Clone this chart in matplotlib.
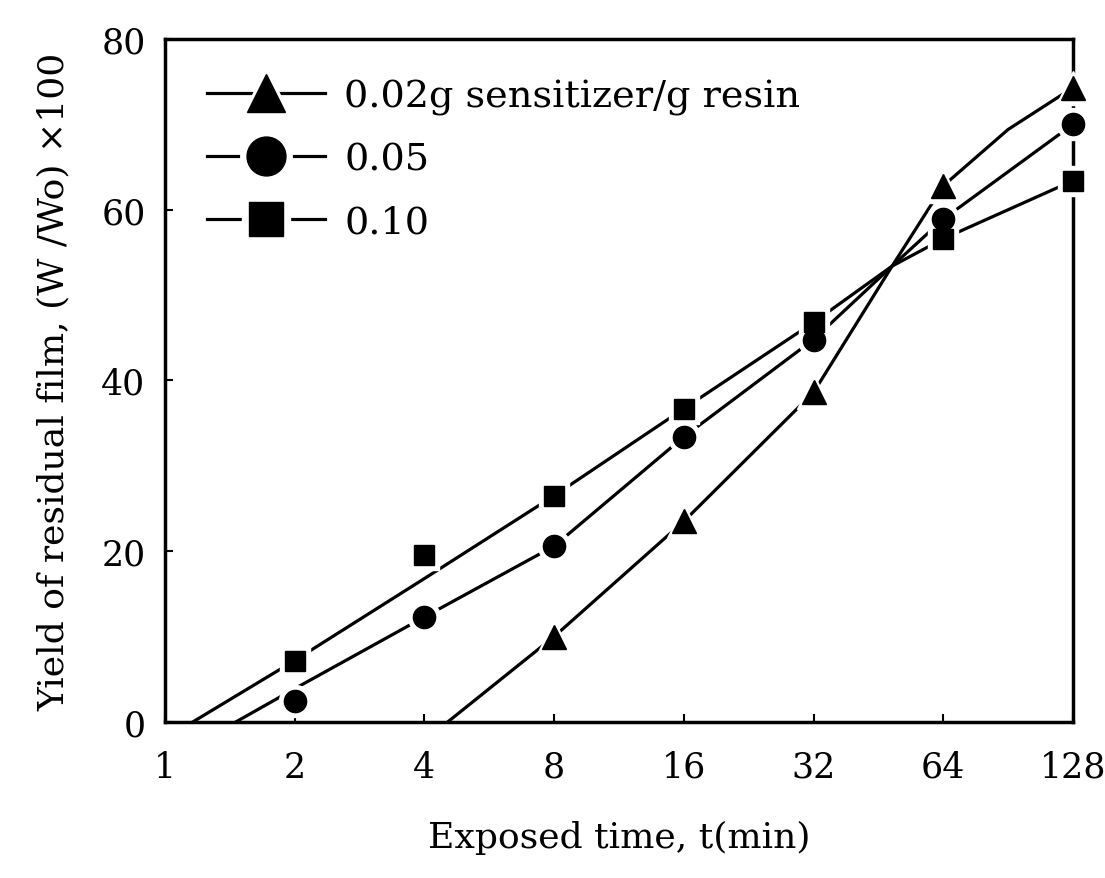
import matplotlib
matplotlib.use("Agg")
import matplotlib.pyplot as plt
from matplotlib.lines import Line2D
from matplotlib.legend_handler import HandlerTuple

plt.rcParams['font.family'] = ['DejaVu Serif']

# exposure times (min)
tri_t = [8, 16, 32, 64, 128]
tri_y = [10.0, 23.5, 38.6, 62.8, 74.3]
cir_t = [2, 4, 8, 16, 32, 64, 128]
cir_y = [2.5, 12.3, 20.6, 33.4, 44.8, 58.9, 70.0]
sq_t = [2, 4, 8, 16, 32, 64, 128]
sq_y = [7.2, 19.6, 26.5, 36.7, 46.8, 56.6, 63.4]

# fitted curves as drawn in the figure
tri_fit_t = [4.53, 8, 16, 32, 48.7, 64, 90.5, 128]
tri_fit_y = [0.0, 10.0, 23.5, 38.6, 53.4, 62.8, 69.4, 74.3]
cir_fit_t = [1.46, 2, 4, 8, 16, 32, 48.7, 64, 128]
cir_fit_y = [0.0, 3.9, 12.3, 20.6, 33.4, 44.8, 53.4, 58.9, 70.0]
sq_fit_t = [1.16, 2, 4, 8, 16, 32, 48.7, 64, 128]
sq_fit_y = [0.0, 7.2, 16.8, 26.5, 36.7, 46.8, 53.4, 56.6, 63.4]

x_ticks = [1, 2, 4, 8, 16, 32, 64, 128]
y_ticks = [0, 20, 40, 60, 80]
labels = ['0.02g sensitizer/g resin', '0.05', '0.10']

fig = plt.figure(figsize=(11.05, 8.79), dpi=100)
ax = fig.add_axes([0.1493, 0.1775, 0.8217, 0.777])
ax.set_xscale('log', base=2)
ax.set_xlim(1, 128)
ax.set_ylim(0, 80)

lw = 2.3
series = [
    (tri_t, tri_y, tri_fit_t, tri_fit_y, '^', 17, 28),
    (cir_t, cir_y, cir_fit_t, cir_fit_y, 'o', 16, 28),
    (sq_t, sq_y, sq_fit_t, sq_fit_y, 's', 15, 25),
]
for px, py, fx, fy, m, ms, lms in series:
    ax.plot(fx, fy, color='black', lw=lw, zorder=2, clip_on=False)
for px, py, fx, fy, m, ms, lms in series:
    ax.plot(px, py, ls='none', marker=m, ms=ms + 7, color='white', mec='white', zorder=3, clip_on=False)
for px, py, fx, fy, m, ms, lms in series:
    ax.plot(px, py, ls='none', marker=m, ms=ms, color='black', mec='black', zorder=4, clip_on=False)

ax.set_xticks(x_ticks)
ax.set_xticklabels([str(v) for v in x_ticks])
ax.xaxis.set_minor_locator(matplotlib.ticker.NullLocator())
ax.set_yticks(y_ticks)
ax.set_yticklabels([str(v) for v in y_ticks])
ax.tick_params(direction='in', length=6, width=1.5, labelsize=25)
ax.tick_params(axis='x', pad=20)
ax.tick_params(axis='y', pad=14)
for s in ax.spines.values():
    s.set_linewidth(2.5)

ax.set_xlabel('Exposed time, t(min)', fontsize=26, labelpad=26)
ax.set_ylabel('Yield of residual film, (W /Wo) ×100', fontsize=26, labelpad=22)

handles = []
for (px, py, fx, fy, m, ms, lms) in series:
    h1 = Line2D([0], [0], color='black', lw=lw, marker=m, ms=lms + 9,
                mfc='white', mec='white')
    h2 = Line2D([0], [0], ls='none', marker=m, ms=lms, color='black')
    handles.append((h1, h2))
leg = ax.legend(handles, labels, loc='upper left', bbox_to_anchor=(0.029, 0.965),
                frameon=False, fontsize=27.5, handlelength=3.1, handletextpad=0.5,
                labelspacing=0.7, borderaxespad=0,
                handler_map={tuple: HandlerTuple(ndivide=1)})

fig.savefig('out.png', dpi=100)
